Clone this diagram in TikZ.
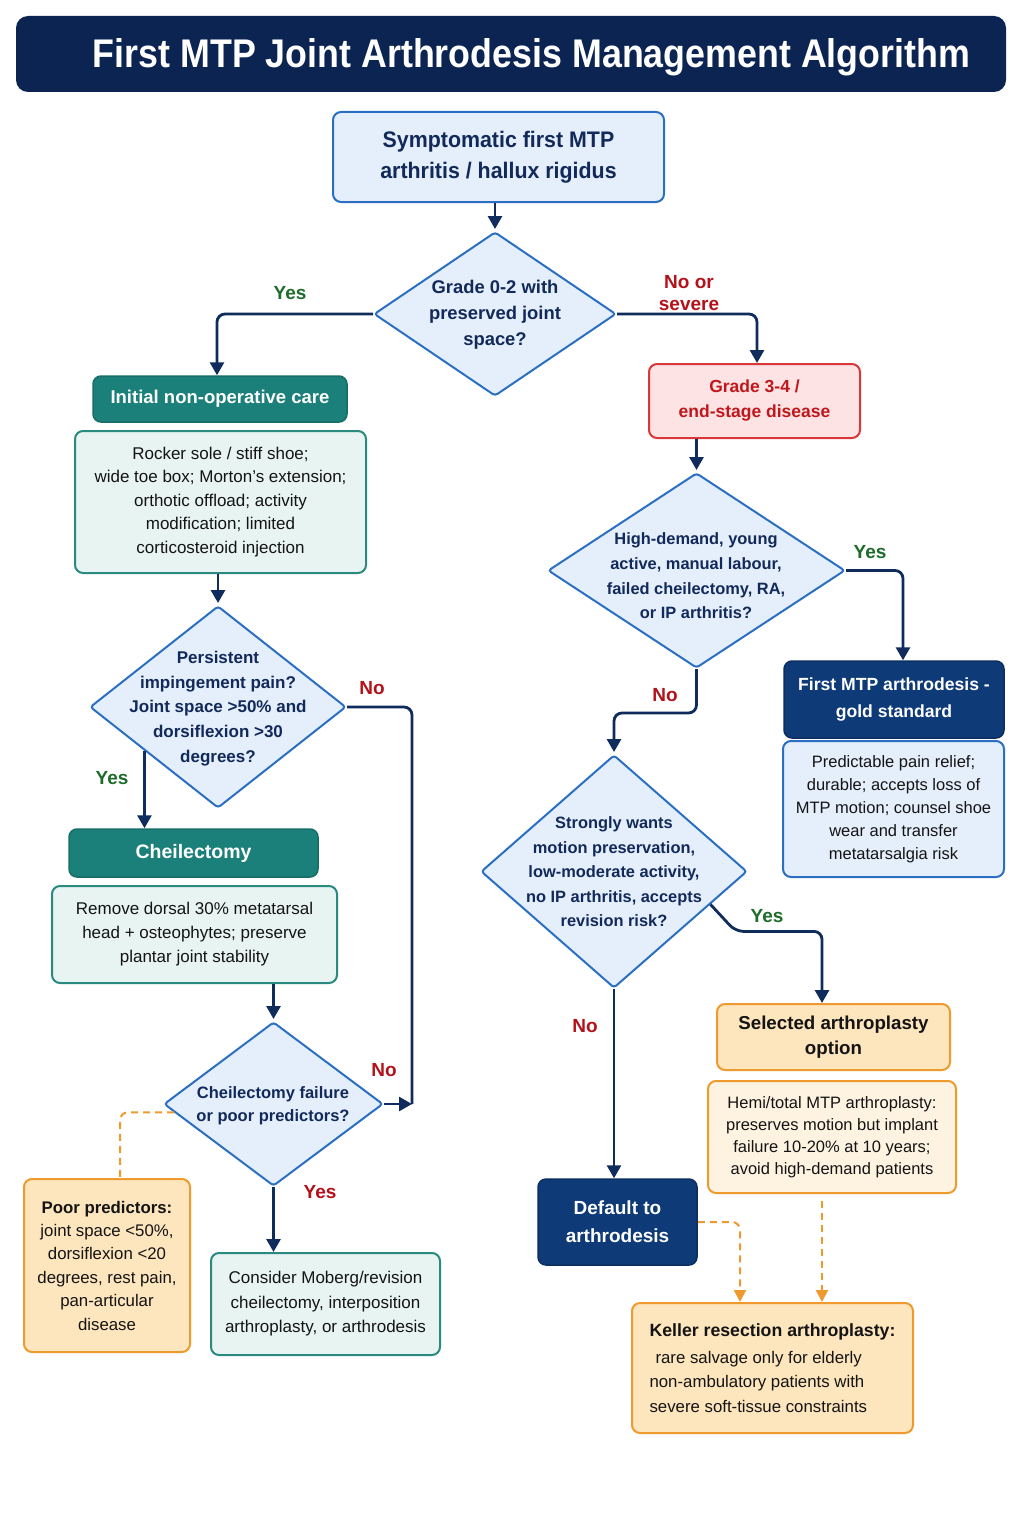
\documentclass[tikz,border=0pt]{standalone}
\usepackage{fontspec}
\setmainfont{Liberation Sans}
\usetikzlibrary{arrows.meta,shapes.geometric,calc}
\definecolor{navy}{HTML}{0B2452}
\definecolor{arrowc}{HTML}{102C5C}
\definecolor{dianavy}{HTML}{12295A}
\definecolor{diafill}{HTML}{E4EFFB}
\definecolor{diaborder}{HTML}{2B6FC2}
\definecolor{hteal}{HTML}{1B8079}
\definecolor{mintfill}{HTML}{E7F4F1}
\definecolor{mintborder}{HTML}{2A8A7F}
\definecolor{redfill}{HTML}{FDE3E3}
\definecolor{redborder}{HTML}{D9383B}
\definecolor{redtext}{HTML}{C0171D}
\definecolor{boxnavy}{HTML}{0E3A78}
\definecolor{orborder}{HTML}{EE9A2E}
\definecolor{orfill}{HTML}{FDE5BD}
\definecolor{creamfill}{HTML}{FEF3E1}
\definecolor{yesgreen}{HTML}{1E6B2C}
\definecolor{nored}{HTML}{B3121A}
\definecolor{bodytext}{HTML}{141414}
\newcommand\fsz[2]{\fontsize{#1pt}{#2pt}\selectfont}
\tikzset{
  basebox/.style={inner sep=0pt, align=center, rounded corners=8pt},
  lightblue/.style={basebox, draw=diaborder, fill=diafill, line width=2pt},
  tealhead/.style={basebox, fill=hteal, draw=hteal!85!black, line width=1.5pt, text=white, font=\fsz{18.5}{22}\bfseries},
  mintbox/.style={basebox, fill=mintfill, draw=mintborder, line width=2pt, text=bodytext, font=\fsz{17}{23.5}},
  navybox/.style={basebox, fill=boxnavy, draw=boxnavy!80!black, line width=1.5pt, text=white},
  orbox/.style={basebox, fill=orfill, draw=orborder, line width=2pt, text=bodytext},
  dia/.style={diamond, draw=diaborder, fill=diafill, line width=2pt, inner sep=0pt, rounded corners=3pt},
  dtext/.style={align=center, text=dianavy, inner sep=0pt},
  arr/.style={draw=arrowc, line width=2.8pt, rounded corners=8pt, -{Triangle[length=13pt,width=14pt]}},
  plainline/.style={draw=arrowc, line width=2.8pt, rounded corners=8pt},
  darr/.style={draw=orborder, line width=2pt, dash pattern=on 7pt off 5pt, rounded corners=8pt, -{Triangle[length=12pt,width=12pt]}},
  dline/.style={draw=orborder, line width=2pt, dash pattern=on 7pt off 5pt, rounded corners=8pt},
  ylab/.style={text=yesgreen, font=\fsz{19}{22}\bfseries, align=center},
  nlab/.style={text=nored, font=\fsz{19}{22}\bfseries, align=center},
}
\begin{document}
\begin{tikzpicture}[x=1pt,y=-1pt]
\useasboundingbox (0,0) rectangle (1024,1536);
\fill[white] (0,0) rectangle (1024,1536);

% title
\node[fill=navy, rounded corners=12pt, minimum width=990pt, minimum height=76pt, inner sep=0pt] (titlebar) at (511,54) {};
\node[text=white, font=\fsz{40}{48}\bfseries, inner sep=0pt] (title) at (531.5,57) {\scalebox{0.895}[1]{First MTP Joint Arthrodesis Management Algorithm}};

% start
\node[lightblue, minimum width=331pt, minimum height=90pt, text=dianavy, font=\fsz{22.5}{31}\bfseries] (start) at (498.5,157)
  {\scalebox{0.95}[1]{Symptomatic first MTP}\\\scalebox{0.95}[1]{arthritis / hallux rigidus}};

% decision 1
\node[dia, minimum width=242pt, minimum height=164pt] (d1) at (495,314) {};
\node[dtext, font=\fsz{18.4}{26}\bfseries] (d1t) at (495,315) {Grade 0-2 with\\preserved joint\\space?};

% left column
\node[tealhead, minimum width=254pt, minimum height=46pt] (init) at (220,399) {Initial non-operative care};
\node[mintbox, minimum width=291pt, minimum height=142pt] (rocker) at (220.5,502)
  {Rocker sole / stiff shoe;\\wide toe box; Morton's extension;\\orthotic offload; activity\\modification; limited\\corticosteroid injection};

\node[dia, minimum width=256pt, minimum height=202pt] (d2) at (218,707) {};
\node[dtext, font=\fsz{17}{24.75}\bfseries] (d2t) at (218,708.5) {Persistent\\impingement pain?\\Joint space >50\% and\\dorsiflexion >30\\degrees?};

\node[tealhead, minimum width=249pt, minimum height=48pt, font=\fsz{19.5}{22}\bfseries] (cheil) at (193.5,853) {Cheilectomy};
\node[mintbox, minimum width=285pt, minimum height=97pt, font=\fsz{17}{24}] (cdet) at (194.5,934.5)
  {Remove dorsal 30\% metatarsal\\head + osteophytes; preserve\\plantar joint stability};

\node[dia, minimum width=219pt, minimum height=164pt] (d4) at (273.5,1104) {};
\node[dtext, font=\fsz{16.5}{23}\bfseries] (d4t) at (273,1105.5) {Cheilectomy failure\\or poor predictors?};

\node[orbox, minimum width=166pt, minimum height=173pt, font=\fsz{16.8}{23.4}] (poor) at (107,1265.5)
  {\textbf{Poor predictors:}\\joint space <50\%,\\dorsiflexion <20\\degrees, rest pain,\\pan-articular\\disease};

\node[mintbox, minimum width=229pt, minimum height=102pt, font=\fsz{17}{24.5}] (consider) at (325.5,1304)
  {Consider Moberg/revision\\cheilectomy, interposition\\arthroplasty, or arthrodesis};

% right column
\node[basebox, fill=redfill, draw=redborder, line width=2pt, text=redtext, font=\fsz{17.5}{25}\bfseries, minimum width=211pt, minimum height=74pt] (grade) at (754.5,401)
  {Grade 3-4 /\\end-stage disease};

\node[dia, minimum width=297pt, minimum height=195pt] (d3) at (696.5,570.5) {};
\node[dtext, font=\fsz{16.4}{24.7}\bfseries] (d3t) at (696,576) {High-demand, young\\active, manual labour,\\failed cheilectomy, RA,\\or IP arthritis?};

\node[navybox, minimum width=220pt, minimum height=77pt, font=\fsz{17.6}{27}\bfseries] (fmtp) at (894,699.5)
  {First MTP arthrodesis -\\gold standard};
\node[lightblue, minimum width=221pt, minimum height=136pt, text=bodytext, font=\fsz{16.5}{23}] (fdet) at (893.5,809)
  {Predictable pain relief;\\durable; accepts loss of\\MTP motion; counsel shoe\\wear and transfer\\metatarsalgia risk};

\node[dia, minimum width=266pt, minimum height=233pt] (d5) at (614,871.5) {};
\node[dtext, font=\fsz{16.4}{24.5}\bfseries] (d5t) at (614,872) {Strongly wants\\motion preservation,\\low-moderate activity,\\no IP arthritis, accepts\\revision risk?};

\node[orbox, minimum width=233pt, minimum height=66pt, font=\fsz{18.7}{25}\bfseries] (sel) at (833.5,1037)
  {Selected arthroplasty\\option};
\node[orbox, fill=creamfill, minimum width=248pt, minimum height=112pt, font=\fsz{16.5}{22}] (hemi) at (832,1137)
  {Hemi/total MTP arthroplasty:\\preserves motion but implant\\failure 10-20\% at 10 years;\\avoid high-demand patients};

\node[navybox, minimum width=159pt, minimum height=86pt, font=\fsz{19}{28}\bfseries] (def) at (617.5,1222)
  {Default to\\arthrodesis};

\node[orbox, minimum width=281pt, minimum height=130pt, align=left, font=\fsz{16.8}{24.5}] (keller) at (772.5,1368)
  {{\fsz{17.7}{24.5}\bfseries Keller resection arthroplasty:}\\[2pt]\hspace{6pt}rare salvage only for elderly\\non-ambulatory patients with\\severe soft-tissue constraints};

% connectors
\draw[arr, shorten >=2pt] (start.south -| d1.north) -- (d1.north);
\draw[arr] (d1.west) -| ([xshift=-3pt]init.north);
\draw[arr] (d1.east) -| ([xshift=2.5pt]grade.north);

\draw[arr, shorten >=2pt] (rocker.south -| d2.north) -- (d2.north);
\coordinate (d2y) at ($(d2.west)!0.43!(d2.south)$);
\draw[arr] (d2y) -- (d2y |- cheil.north);
\coordinate (njoin) at (412,1104);
\draw[plainline] (d2.east) -| (njoin);
\draw[arr] (d4.east) -- (njoin);

\draw[arr, shorten >=2pt] (cdet.south -| d4.north) -- (d4.north);
\draw[arr] (d4.south) -- (d4.south |- consider.north);
\coordinate (d4p) at ($(d4.west)!0.1!(d4.south)$);
\draw[dline] (d4p) -| ([xshift=13pt]poor.north);

\draw[arr, shorten >=2pt] (grade.south -| d3.north) -- (d3.north);
\draw[arr] (d3.east) -| ([xshift=9pt]fmtp.north);
\draw[arr, shorten >=2pt] (d3.south) -- ++(0,44) -| (d5.north);

\coordinate (d5y) at ($(d5.east)!0.28!(d5.south)$);
\draw[arr] (d5y) -- ++(25,27) -| ([xshift=-11.5pt]sel.north);
\draw[arr] (d5.south) -- (d5.south |- def.north);

\draw[darr] (def.east) -| ([xshift=-32.5pt]keller.north);
\draw[darr, shorten <=7pt] ([xshift=-10pt]hemi.south) -- ([xshift=-10pt]hemi.south |- keller.north);

% labels
\node[ylab] (l1) at (290,293) {Yes};
\node[nlab] (l2) at (689,293) {No or\\severe};
\node[nlab] (l3) at (372,688) {No};
\node[ylab] (l4) at (112,778) {Yes};
\node[nlab] (l5) at (384,1070) {No};
\node[nlab] (l6) at (320,1192) {Yes};
\node[ylab] (l7) at (870,552) {Yes};
\node[nlab] (l8) at (665,695) {No};
\node[ylab] (l9) at (767,916) {Yes};
\node[nlab] (l10) at (585,1026) {No};
\end{tikzpicture}
\end{document}
